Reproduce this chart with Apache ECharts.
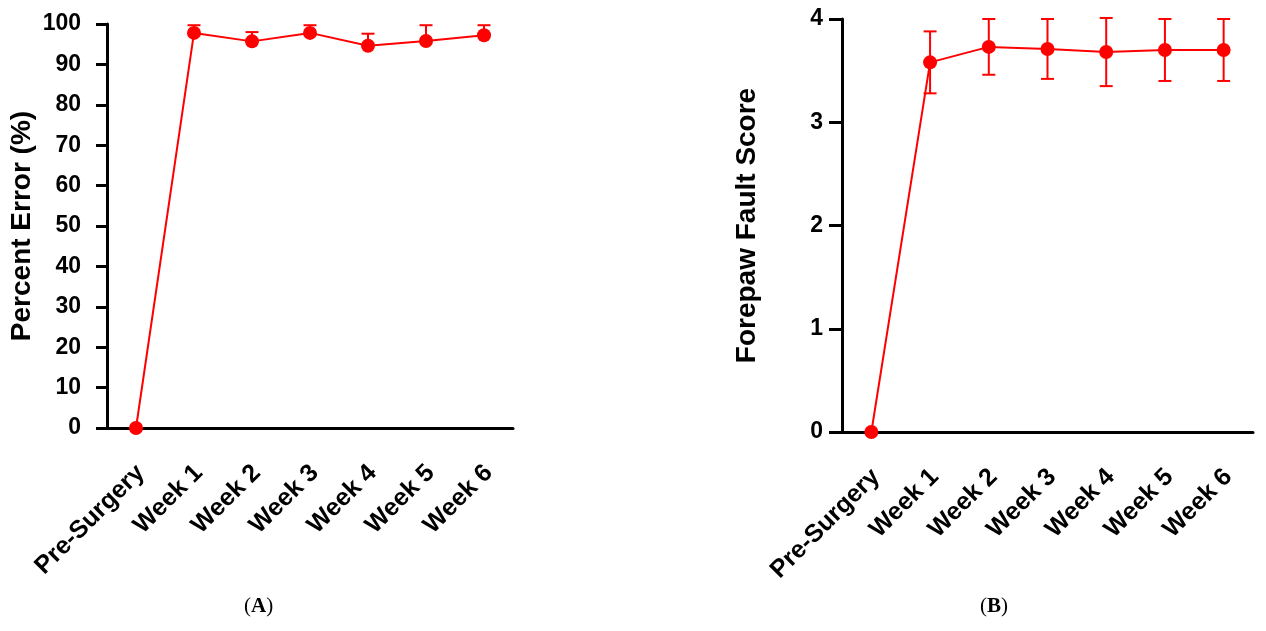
<!DOCTYPE html>
<html>
<head>
<meta charset="utf-8">
<script src="https://cdn.jsdelivr.net/npm/echarts@6/dist/echarts.min.js"></script>
<style>
  html, body { margin: 0; padding: 0; background: #fff; }
  #main { width: 1266px; height: 631px; }
</style>
</head>
<body>
<div id="main"></div>
<script>
// categories shared by both panels
var weeks = ['Pre-Surgery', 'Week 1', 'Week 2', 'Week 3', 'Week 4', 'Week 5', 'Week 6']

// panel A: percent error, mean and upper error
var errorMean = [0, 97.8, 95.7, 97.8, 94.6, 95.8, 97.2]
var errorSem = [0, 1.9, 2.3, 1.9, 3.0, 3.9, 2.5]
var errorTicks = [0, 10, 20, 30, 40, 50, 60, 70, 80, 90, 100]

// panel B: forepaw fault score, mean and error
var faultMean = [0, 3.58, 3.73, 3.71, 3.68, 3.70, 3.70]
var faultSem = [0, 0.30, 0.27, 0.29, 0.33, 0.30, 0.30]
var faultTicks = [0, 1, 2, 3, 4]

var RED = '#ff0000'
var FONT = 'Liberation Sans'

function errData(mean, sem) {
  return mean.map((m, i) => [i, m, sem[i]])
}

// draws the bar + caps; upOnly leaves out the lower half (panel A)
function errRender(upOnly) {
  return function (params, api) {
    let x = api.value(0), m = api.value(1), e = api.value(2)
    if (!e) return { type: 'group', children: [] }
    let lo = api.coord([x, upOnly ? m : m - e])
    let hi = api.coord([x, m + e])
    let half = 6.5
    let style = { stroke: RED, lineWidth: 2 }
    let children = [
      { type: 'line', shape: { x1: hi[0], y1: hi[1], x2: lo[0], y2: lo[1] }, style: style },
      { type: 'line', shape: { x1: hi[0] - half, y1: hi[1], x2: hi[0] + half, y2: hi[1] }, style: style }
    ]
    if (!upOnly) {
      children.push({ type: 'line', shape: { x1: lo[0] - half, y1: lo[1], x2: lo[0] + half, y2: lo[1] }, style: style })
    }
    return { type: 'group', children: children }
  }
}

function xAxis(gridIndex) {
  return {
    type: 'category', gridIndex: gridIndex, data: weeks, boundaryGap: true,
    axisLine: { lineStyle: { color: '#000', width: 3 } },
    axisTick: { alignWithLabel: true, length: 13, lineStyle: { width: 3, color: '#000' } },
    axisLabel: {
      rotate: 45, margin: 28, verticalAlign: 'top', padding: [0, 6, 0, 0], color: '#000',
      fontFamily: FONT, fontWeight: 'bold', fontSize: 25, interval: 0
    }
  }
}

function yAxis(gridIndex, name, ticks, gap, tickLen, margin) {
  return {
    type: 'value', gridIndex: gridIndex, name: name, nameLocation: 'middle', nameGap: gap,
    nameTextStyle: { color: '#000', fontFamily: FONT, fontWeight: 'bold', fontSize: 28 },
    min: ticks[0], max: ticks[ticks.length - 1], interval: ticks[1] - ticks[0],
    splitLine: { show: false },
    axisLine: { show: true, lineStyle: { color: '#000', width: 3 } },
    axisTick: { show: true, length: tickLen, lineStyle: { width: 3, color: '#000' } },
    axisLabel: { margin: margin, color: '#000', fontFamily: FONT, fontWeight: 'bold', fontSize: 23 }
  }
}

function lineSeries(idx, data) {
  return {
    type: 'line', xAxisIndex: idx, yAxisIndex: idx, data: data, clip: false, z: 5,
    symbol: 'circle', symbolSize: 14, itemStyle: { color: RED },
    lineStyle: { color: RED, width: 2 }
  }
}

function errSeries(idx, mean, sem, upOnly) {
  return {
    type: 'custom', xAxisIndex: idx, yAxisIndex: idx, z: 3, clip: false,
    data: errData(mean, sem), renderItem: errRender(upOnly)
  }
}

function caption(cx, letter) {
  return {
    type: 'text', left: cx - 22, top: 596,
    style: {
      text: '({a|' + letter + '})', fill: '#000', font: '21px "Liberation Serif"',
      rich: { a: { fontFamily: 'Liberation Serif', fontWeight: 'bold', fontSize: 21 } }
    }
  }
}

var myChart = echarts.init(document.getElementById('main'))
var option = {
  backgroundColor: '#fff',
  animation: false,
  grid: [
    { left: 107, top: 24, width: 406, height: 404 },
    { left: 842, top: 19, width: 411, height: 413 }
  ],
  xAxis: [xAxis(0), xAxis(1)],
  yAxis: [
    yAxis(0, 'Percent Error (%)', errorTicks, 71, 11, 26),
    yAxis(1, 'Forepaw Fault Score', faultTicks, 81, 13, 19)
  ],
  series: [
    errSeries(0, errorMean, errorSem, true),
    lineSeries(0, errorMean),
    errSeries(1, faultMean, faultSem, false),
    lineSeries(1, faultMean)
  ],
  graphic: [caption(266, 'A'), caption(1002, 'B')]
}
myChart.setOption(option)
</script>
</body>
</html>
